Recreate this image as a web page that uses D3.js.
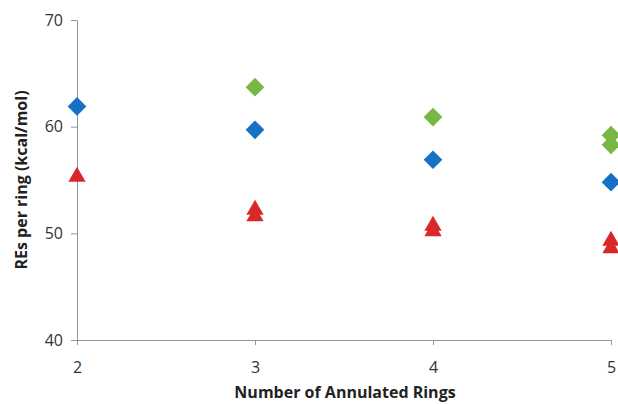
<!DOCTYPE html>
<html>
<head>
<meta charset="utf-8">
<script src="https://cdn.jsdelivr.net/npm/d3@7"></script>
<style>
  body { margin: 0; background: #fff; }
  text { font-family: "Open Sans", "Liberation Sans", sans-serif; }
</style>
</head>
<body>
<svg id="chart" width="618" height="404"></svg>
<script>
// data
const blueX = [2, 3, 4, 5]
const blueY = [61.9, 59.7, 56.9, 54.8]
const greenX = [3, 4, 5, 5]
const greenY = [63.7, 60.9, 59.2, 58.3]
const redX = [2, 3, 3, 4, 4, 5, 5]
const redY = [55.3, 52.2, 51.6, 50.7, 50.2, 49.3, 48.6]
const xTicks = [2, 3, 4, 5]
const yTicks = [40, 50, 60, 70]

const svg = d3.select('#chart')
const x = d3.scaleLinear().domain([2, 5]).range([77, 611])
const y = d3.scaleLinear().domain([40, 70]).range([340, 20])
const axisColor = '#8a9a9c'

// axes
const xAxis = svg.append('g')
  .attr('transform', 'translate(0,340)')
  .call(d3.axisBottom(x).tickValues(xTicks).tickFormat(d3.format('d')).tickSize(5).tickPadding(17))
const yAxis = svg.append('g')
  .attr('transform', 'translate(77,0)')
  .call(d3.axisLeft(y).tickValues(yTicks).tickSize(6).tickPadding(8))

;[xAxis, yAxis].forEach(g => {
  g.select('.domain').attr('stroke', axisColor)
  g.selectAll('.tick line').attr('stroke', axisColor)
  g.selectAll('.tick text')
    .style('font-size', '16px')
    .attr('fill', '#333')
})

// axis titles
svg.append('text')
  .attr('x', 345).attr('y', 398)
  .attr('text-anchor', 'middle')
  .style('font-size', '16px').style('font-weight', 'bold')
  .attr('fill', '#222')
  .text('Number of Annulated Rings')

svg.append('text')
  .attr('transform', 'translate(27,180) rotate(-90)')
  .attr('text-anchor', 'middle')
  .style('font-size', '16px').style('font-weight', 'bold')
  .attr('fill', '#222')
  .text('REs per ring (kcal/mol)')

// markers
const diamond = d3.symbol().type(d3.symbolSquare).size(175)
const triangle = d3.symbol().type(d3.symbolTriangle).size(130)

function drawSeries(xs, ys, sym, fill, rotate) {
  svg.append('g').selectAll('path')
    .data(xs.map((d, i) => [d, ys[i]]))
    .join('path')
    .attr('d', sym)
    .attr('transform', d => `translate(${x(d[0])},${y(d[1])})${rotate ? ' rotate(45)' : ''}`)
    .attr('fill', fill)
}

drawSeries(blueX, blueY, diamond, '#1570c6', true)
drawSeries(greenX, greenY, diamond, '#76b843', true)
drawSeries(redX, redY, triangle, '#d9282a', false)
</script>
</body>
</html>
